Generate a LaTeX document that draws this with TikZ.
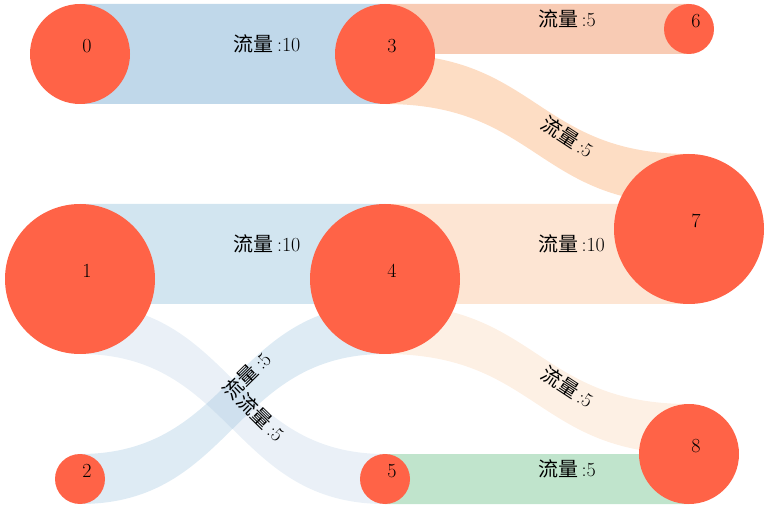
\documentclass[tikz,border=0pt]{standalone}
\usepackage{fontspec}
\newfontfamily\cjk{Noto Sans CJK SC}
\usetikzlibrary{calc}
\pgfdeclarelayer{bands}
\pgfsetlayers{bands,main}
\definecolor{nodered}{RGB}{255,99,71}
\definecolor{flowzt}{HTML}{C0D8EA}
\definecolor{flowts}{HTML}{F8CBB4}
\definecolor{flowtv}{HTML}{FDDDC4}
\definecolor{flowof}{HTML}{D2E5F0}
\definecolor{flowfv}{HTML}{FDE5D3}
\definecolor{flowfe}{HTML}{FDF0E4}
\definecolor{flowtf}{HTML}{DEEBF4}
\definecolor{flowov}{HTML}{9EBCDA}
\definecolor{flowve}{HTML}{C0E4CC}
\tikzstyle{station}=[circle,fill=nodered,inner sep=0pt]
\tikzstyle{nodelabel}=[inner sep=0pt,xshift=7pt,yshift=8pt,font=\fontsize{20}{22}\selectfont]
\tikzstyle{flowlabel}=[anchor=south west,inner sep=1pt,font=\fontsize{20}{22}\selectfont]
\newcommand{\drawflow}[7]{
% #1 from, #2 offset at from, #3 to, #4 offset at to, #5 width, #6 fill, #7 value
\coordinate (s) at ($(#1.center)+(0,#2)$);
\coordinate (t) at ($(#3.center)+(0,#4)$);
\coordinate (m) at ($(s)!0.5!(t)$);
\begin{pgfonlayer}{bands}
\fill[#6] (s) .. controls (s -| m) and (t -| m) .. (t) -- ++(0,#5)
  .. controls ($(t -| m)+(0,#5)$) and ($(s -| m)+(0,#5)$) .. ($(s)+(0,#5)$) -- cycle;
\end{pgfonlayer}
\path let \p1=($(t)-(s)$) in node[flowlabel,rotate={atan2(2*\y1,\x1)}] at ($(m)+(0,#5/2)$) {{\cjk 流量}\,:#7};
}

\begin{document}
\begin{tikzpicture}[x=1pt,y=-1pt]
	\useasboundingbox (0,0) rectangle (777,521);
	% stations
	\node[station,minimum size=100pt,label={[nodelabel]center:0}] (n0) at (80,54) {};
	\node[station,minimum size=150pt,label={[nodelabel]center:1}] (n1) at (80,279) {};
	\node[station,minimum size=50pt,label={[nodelabel]center:2}] (n2) at (80,479) {};
	\node[station,minimum size=100pt,label={[nodelabel]center:3}] (n3) at (385,54) {};
	\node[station,minimum size=150pt,label={[nodelabel]center:4}] (n4) at (385,279) {};
	\node[station,minimum size=50pt,label={[nodelabel]center:5}] (n5) at (385,479) {};
	\node[station,minimum size=50pt,label={[nodelabel]center:6}] (n6) at (689,29) {};
	\node[station,minimum size=150pt,label={[nodelabel]center:7}] (n7) at (689,229) {};
	\node[station,minimum size=100pt,label={[nodelabel]center:8}] (n8) at (689,454) {};
	% flows
	\drawflow{n0}{-50}{n3}{-50}{100}{fill=flowzt}{10}
	\drawflow{n3}{-50}{n6}{-25}{50}{fill=flowts}{5}
	\drawflow{n3}{0}{n7}{-75}{50}{fill=flowtv}{5}
	\drawflow{n1}{-75}{n4}{-75}{100}{fill=flowof}{10}
	\drawflow{n4}{-75}{n7}{-25}{100}{fill=flowfv}{10}
	\drawflow{n4}{25}{n8}{-50}{50}{fill=flowfe}{5}
	\drawflow{n2}{-25}{n4}{25}{50}{fill=flowtf}{5}
	\drawflow{n1}{25}{n5}{-25}{50}{fill=flowov,fill opacity=0.22}{5}
	\drawflow{n5}{-25}{n8}{0}{50}{fill=flowve}{5}
\end{tikzpicture}
\end{document}
